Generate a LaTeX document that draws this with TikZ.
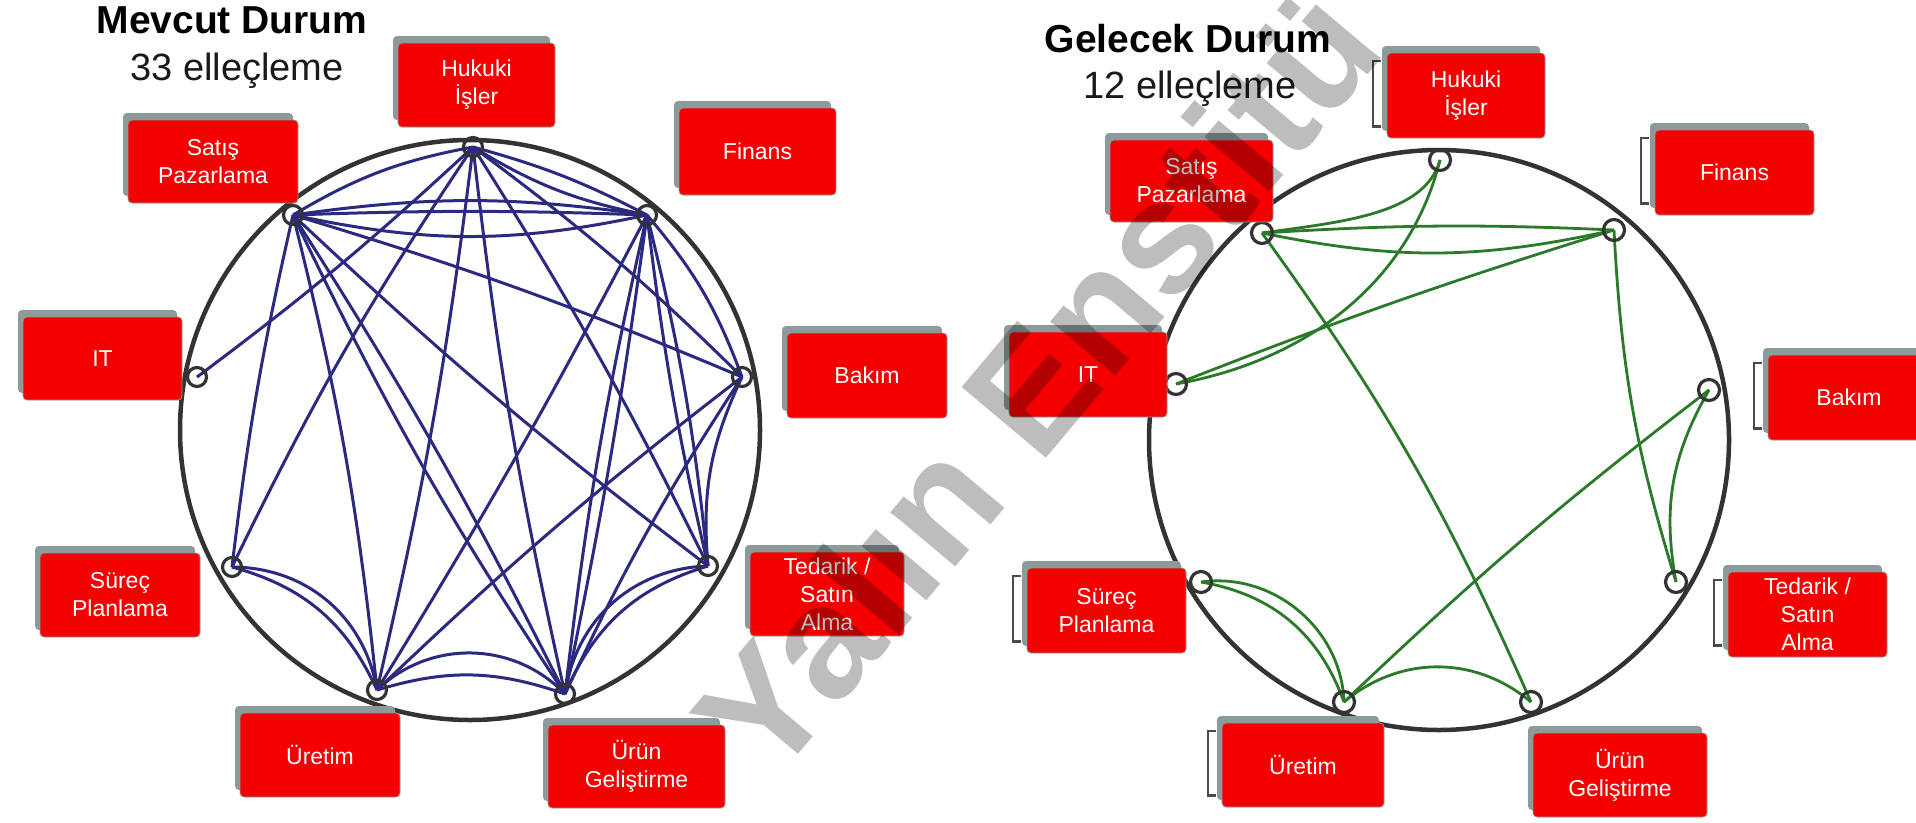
\documentclass[tikz,border=0pt]{standalone}
\usepackage{fontspec}
\setmainfont{Liberation Sans}
\usetikzlibrary{shadows,calc}
\definecolor{boxred}{HTML}{F40000}
\definecolor{shadowgray}{HTML}{8D9A9A}
\definecolor{lineblue}{HTML}{2B2A80}
\definecolor{linegreen}{HTML}{2A7A2A}
\definecolor{rimgray}{HTML}{333333}
\definecolor{brkgray}{HTML}{4A4A4A}
\begin{document}
\begin{tikzpicture}[x=1pt,y=-1pt,
  lbl/.style={fill=boxred, draw=shadowgray, line width=0.8pt, rounded corners=4pt,
    text=white, align=center, inner sep=2pt, font=\fontsize{23}{28}\selectfont,
    general shadow={fill=shadowgray, shadow xshift=-5pt, shadow yshift=7pt}},
  ring/.style={circle, draw=rimgray, line width=4.5pt, minimum size=580pt, inner sep=0pt},
  nd/.style={circle, draw=rimgray, line width=3.2pt, minimum size=19pt, inner sep=0pt},
  le/.style={draw=lineblue, line width=3pt},
  ge/.style={draw=linegreen, line width=2.8pt},
  brk/.style={draw=brkgray, line width=2.2pt},
  ttl/.style={font=\fontsize{39}{44}\selectfont\bfseries, anchor=base},
  sub/.style={font=\fontsize{38}{44}\selectfont, anchor=base, text=black!90}
]
\useasboundingbox (0,0) rectangle (1916,822);
\fill[white] (0,0) rectangle (1916,822);

% ---------------- titles
\node[ttl] (t1) at (232,33) {Mevcut Durum};
\node[sub] (s1) at (237,80) {33 elleçleme};
\node[ttl] (t2) at (1188,52) {Gelecek Durum};
\node[sub] (s2) at (1190,98) {12 elleçleme};

% ---------------- left panel
\node[ring] (lRing) at (470,430) {};
\coordinate (lH) at (473,147);
\coordinate (lS) at (293,215);
\coordinate (lF) at (647,215);
\coordinate (lI) at (197,377);
\coordinate (lB) at (742,377);
\coordinate (lP) at (232,567);
\coordinate (lT) at (708,566);
\coordinate (lU) at (377,690);
\coordinate (lG) at (565,694);

\draw[le] (lS) to[bend left=10] (lH);
\draw[le] (lS) to[bend left=8] (lF);
\draw[le] (lS) to[bend left=2] (lF);
\draw[le] (lS) to[bend right=12] (lF);
\draw[le] (lH) to[bend left=6] (lF);
\draw[le] (lH) to[bend right=10] (lF);
\draw[le] (lS) to[bend left=3] (lB);
\draw[le] (lS) to[bend right=3] (lT);
\draw[le] (lS) to[bend left=3] (lG);
\draw[le] (lS) to[bend right=4] (lG);
\draw[le] (lS) to[bend left=4] (lU);
\draw[le] (lS) to[bend right=3] (lP);
\draw[le] (lI) to[bend right=3] (lH);
\draw[le] (lH) to[bend right=4] (lP);
\draw[le] (lH) to[bend left=3] (lU);
\draw[le] (lH) to[bend right=3] (lG);
\draw[le] (lH) to[bend left=3] (lT);
\draw[le] (lH) to[bend left=4] (lB);
\draw[le] (lF) to[bend left=10] (lB);
\draw[le] (lF) to[bend right=3] (lT);
\draw[le] (lF) to[bend left=4] (lT);
\draw[le] (lF) to[bend right=3] (lG);
\draw[le] (lF) to[bend left=2] (lG);
\draw[le] (lF) to[bend left=2] (lU);
\draw[le] (lB) to[bend right=15] (lT);
\draw[le] (lB) to[bend right=4] (lG);
\draw[le] (lB) to[bend right=3] (lU);
\draw[le] (lT) to[bend right=25] (lG);
\draw[le] (lT) to[bend right=40] (lG);
\draw[le] (lP) to[bend left=25] (lU);
\draw[le] (lP) to[bend left=40] (lU);
\draw[le] (lU) to[bend left=45] (lG);
\draw[le] (lU) to[bend left=18] (lG);

\foreach \n in {lH,lS,lF,lI,lB,lP,lT,lU,lG} {\node[nd] (\n c) at (\n) {};}

\node[lbl, minimum width=157pt, minimum height=84pt] (lHb) at (476.5,85) {Hukuki\\İşler};
\node[lbl, minimum width=170pt, minimum height=83pt] (lSb) at (213,161.5) {Satış\\Pazarlama};
\node[lbl, minimum width=157pt, minimum height=87pt] (lFb) at (757.5,151.5) {Finans};
\node[lbl, minimum width=159pt, minimum height=83pt] (lIb) at (102.5,358.5) {IT};
\node[lbl, minimum width=160pt, minimum height=85pt] (lBb) at (867,375.5) {Bakım};
\node[lbl, minimum width=160pt, minimum height=84pt] (lPb) at (120,595) {Süreç\\Planlama};
\node[lbl, minimum width=154pt, minimum height=84pt] (lTb) at (827,594) {Tedarik /\\Satın\\Alma};
\node[lbl, minimum width=160pt, minimum height=84pt] (lUb) at (320,755) {Üretim};
\node[lbl, minimum width=177pt, minimum height=83pt] (lGb) at (636.5,766.5) {Ürün\\Geliştirme};

% ---------------- right panel
\node[ring] (rRing) at (1439,440) {};
\coordinate (rH) at (1440,160);
\coordinate (rS) at (1262,233);
\coordinate (rF) at (1614,230);
\coordinate (rI) at (1176,384);
\coordinate (rB) at (1709,390);
\coordinate (rP) at (1201,582);
\coordinate (rT) at (1676,582);
\coordinate (rU) at (1344,702);
\coordinate (rG) at (1531,702);

\draw[ge] (rS) to[bend left=3] (rF);
\draw[ge] (rS) to[bend right=12] (rF);
\draw[ge] (rS) .. controls (1340,222) and (1425,215) .. (rH);
\draw[ge] (rH) .. controls (1410,280) and (1310,360) .. (rI);
\draw[ge] (rF) to[bend right=2] (rI);
\draw[ge] (rS) to[bend left=6] (rG);
\draw[ge] (rF) to[bend right=7] (rT);
\draw[ge] (rB) to[bend right=20] (rT);
\draw[ge] (rB) to[bend right=3] (rU);
\draw[ge] (rP) to[bend left=30] (rU);
\draw[ge] (rP) to[bend left=48] (rU);
\draw[ge] (rU) to[bend left=40] (rG);

\foreach \n in {rH,rS,rF,rI,rB,rP,rT,rU,rG} {\node[nd, minimum size=21pt] (\n c) at (\n) {};}

\node[lbl, minimum width=158pt, minimum height=85pt] (rHb) at (1466,95.5) {Hukuki\\İşler};
\node[lbl, minimum width=163pt, minimum height=82pt] (rSb) at (1191.5,181) {Satış\\Pazarlama};
\node[lbl, minimum width=159pt, minimum height=85pt] (rFb) at (1734.5,172.5) {Finans};
\node[lbl, minimum width=158pt, minimum height=85pt] (rIb) at (1088,374.5) {IT};
\node[lbl, minimum width=162pt, minimum height=85pt] (rBb) at (1849,397.5) {Bakım};
\node[lbl, minimum width=159pt, minimum height=85pt] (rPb) at (1106.5,610.5) {Süreç\\Planlama};
\node[lbl, minimum width=159pt, minimum height=85pt] (rTb) at (1807.5,614.5) {Tedarik /\\Satın\\Alma};
\node[lbl, minimum width=162pt, minimum height=84pt] (rUb) at (1303,765) {Üretim};
\node[lbl, minimum width=174pt, minimum height=84pt] (rGb) at (1620,775) {Ürün\\Geliştirme};

\foreach \b in {rHb,rFb,rBb,rTb,rPb,rUb} {
  \draw[brk] ($(\b.north west)+(-6,8)$) -- ($(\b.north west)+(-14,8)$)
    -- ($(\b.south west)+(-14,-12)$) -- ($(\b.south west)+(-6,-12)$);
}

% ---------------- watermark
\node[rotate=50, text=black, text opacity=0.26, font=\fontsize{160}{160}\selectfont\bfseries] (wm) at (1036,382) {Yalın Enstitü};
\end{tikzpicture}
\end{document}
